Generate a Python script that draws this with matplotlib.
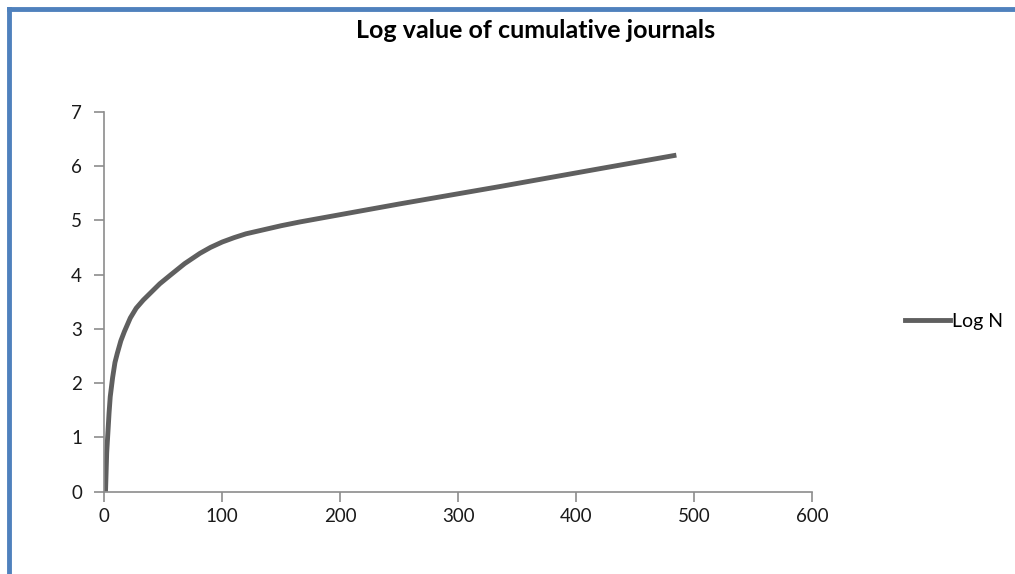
import matplotlib.pyplot as plt
from matplotlib.lines import Line2D

# rank of journal vs log of cumulative count
rank = [1, 2, 3, 4, 5, 7, 9, 11, 14, 17, 22, 27, 33, 40, 47, 56, 68, 81,
        90, 100, 110, 120, 132, 150, 166, 250, 335, 420, 485]
log_n = [0, 0.72, 1.08, 1.45, 1.75, 2.1, 2.38, 2.55, 2.78, 2.95, 3.2, 3.38,
         3.53, 3.68, 3.83, 3.99, 4.2, 4.39, 4.5, 4.6, 4.68, 4.75, 4.81, 4.9,
         4.97, 5.3, 5.62, 5.95, 6.2]
xticks = [0, 100, 200, 300, 400, 500, 600]
yticks = [0, 1, 2, 3, 4, 5, 6, 7]

plt.rcParams['font.family'] = ['Lato', 'DejaVu Sans']

fig = plt.figure(figsize=(10.15, 5.74), dpi=100)
ax = fig.add_axes([0.1028, 0.1434, 0.6972, 0.662])

ax.plot(rank, log_n, color='#5f5f5f', lw=3.5, solid_capstyle='butt',
        solid_joinstyle='round', label='Log N')

ax.set_xlim(0, 600)
ax.set_ylim(0, 7)
ax.set_xticks(xticks)
ax.set_yticks(yticks)
for s in ['top', 'right']:
    ax.spines[s].set_visible(False)
for s in ['left', 'bottom']:
    ax.spines[s].set_color('#8c8c8c')
    ax.spines[s].set_linewidth(1.2)
ax.tick_params(direction='out', length=7, width=1.2, color='#8c8c8c',
               labelsize=13.5, labelcolor='#1a1a1a')
ax.tick_params(axis='y', pad=9)
ax.tick_params(axis='x', pad=5)

fig.text(0.528, 0.947, 'Log value of cumulative journals', ha='center', va='center',
         fontsize=18, fontweight='bold', color='black')

fig.legend(handles=[Line2D([], [], color='#5f5f5f', lw=3.5)], labels=['Log N'],
           loc='center left', bbox_to_anchor=(905 / 1015, 1 - 321 / 574),
           frameon=False, fontsize=14, handlelength=2.3, handletextpad=0.1,
           borderpad=0, borderaxespad=0)

# blue frame on top and left
fig.add_artist(Line2D([9 / 1015, 1], [1 - 9 / 574, 1 - 9 / 574], color='#4f81bd', lw=3.5,
                      transform=fig.transFigure))
fig.add_artist(Line2D([9 / 1015, 9 / 1015], [0, 1 - 9 / 574], color='#4f81bd', lw=3.5,
                      transform=fig.transFigure))

fig.savefig('out.png', dpi=100)
